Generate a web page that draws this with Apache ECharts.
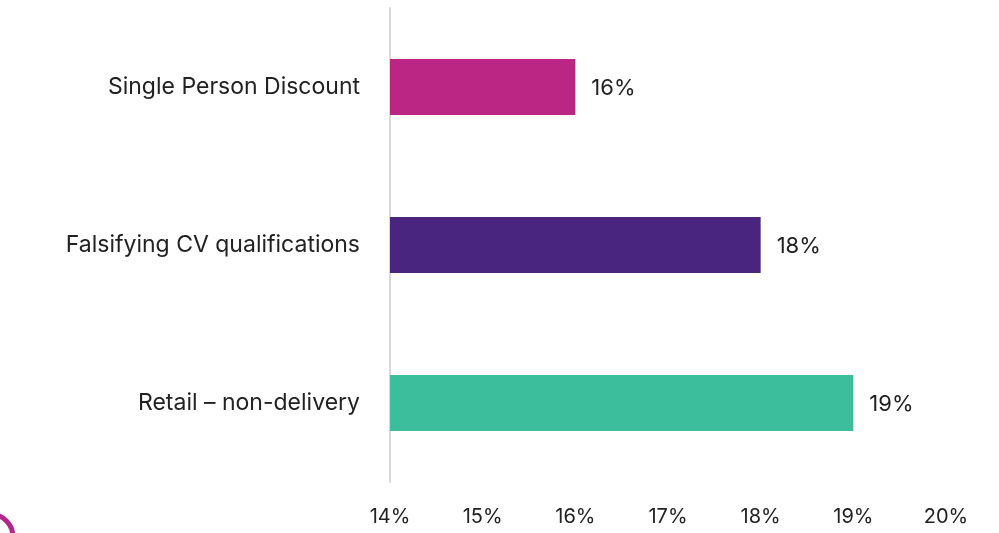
<!DOCTYPE html>
<html><head><meta charset="utf-8">
<script src="https://cdn.jsdelivr.net/npm/echarts@6/dist/echarts.min.js"></script>
<style>html,body{margin:0;padding:0;background:#fff}#c{width:999px;height:533px}</style>
</head><body><div id="c"></div>
<script>
const categories = ["Single Person Discount", "Falsifying CV qualifications", "Retail \u2013 non-delivery"];
const values = [16, 18, 19];
const barColors = ["#BB2583", "#4A2580", "#3CBD9C"];
const xTicks = [14, 15, 16, 17, 18, 19, 20];

const chart = echarts.init(document.getElementById('c'), null, {renderer: 'canvas'});
const font = 'Inter, "Noto Sans", sans-serif';
chart.setOption({
  animation: false,
  backgroundColor: '#fff',
  grid: {left: 390, right: 53, top: 8, bottom: 51, containLabel: false},
  xAxis: {
    type: 'value', min: xTicks[0], max: xTicks[xTicks.length - 1], interval: 1,
    axisLine: {show: false}, axisTick: {show: false}, splitLine: {show: false},
    axisLabel: {formatter: v => v + '%', color: '#222', fontSize: 20, fontFamily: font, margin: 25}
  },
  yAxis: {
    type: 'category', data: categories, inverse: true,
    axisLine: {show: true, lineStyle: {color: '#d9d9d9', width: 2}},
    axisTick: {show: false},
    axisLabel: {color: '#222', fontSize: 23, fontFamily: font, margin: 30}
  },
  series: [{
    type: 'bar', barWidth: 56,
    data: values.map((v, i) => ({value: v, itemStyle: {color: barColors[i]}})),
    label: {show: true, position: 'right', distance: 16, offset: [0, 1], formatter: p => p.value + '%', color: '#222', fontSize: 22, fontFamily: font}
  }],
  graphic: [{
    type: 'circle', shape: {cx: -10, cy: 537, r: 23},
    style: {fill: 'none', stroke: '#B3278C', lineWidth: 5}
  }]
});
</script></body></html>
